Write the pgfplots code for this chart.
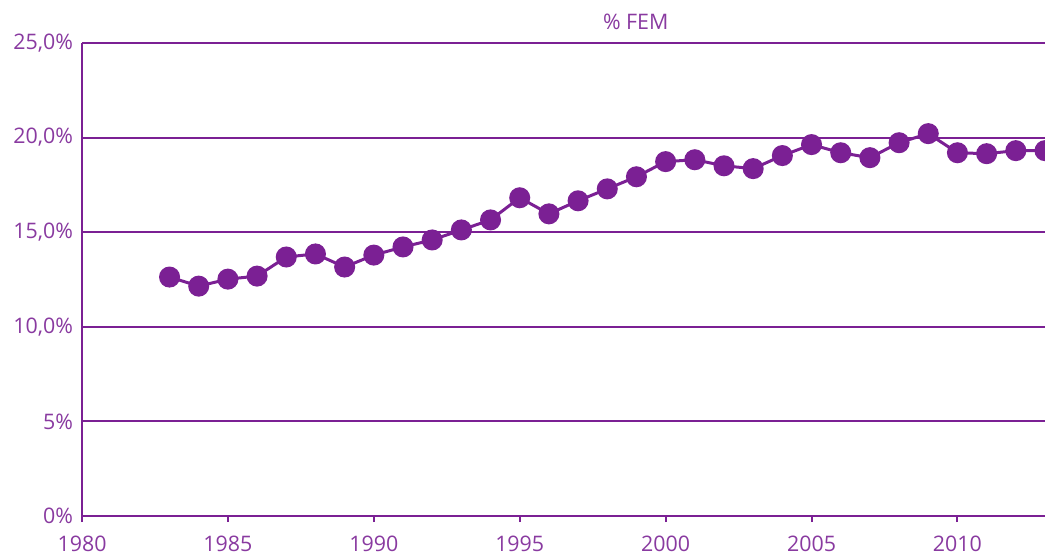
\documentclass[border=0pt]{standalone}
\usepackage{fontspec}
\setmainfont{Open Sans}
\usepackage{pgfplots}
\pgfplotsset{compat=1.18}
\definecolor{lpurple}{RGB}{123,32,148}
\definecolor{tpurple}{RGB}{137,58,160}
\begin{document}
\begin{tikzpicture}
\useasboundingbox (0,0) rectangle (522.5pt,277pt);
\begin{axis}[
  at={(41pt,19pt)}, anchor=south west,
  scale only axis, width=481.5pt, height=236.5pt,
  xmin=1980, xmax=2013, ymin=0, ymax=25,
  axis lines=left, axis line style={lpurple, line width=1pt, -},
  xtick={1980,1985,1990,1995,2000,2005,2010},
  ytick={0,5,10,15,20,25},
  yticklabels={0\%,5\%,{10,0\%},{15,0\%},{20,0\%},{25,0\%}},
  xticklabel style={/pgf/number format/1000 sep={}},
  /pgf/number format/assume math mode=true,
  tick label style={font=\fontsize{10.7}{12}\selectfont, text=tpurple},
  xtick style={lpurple, line width=1pt},
  major tick length=3pt,
  ytick style={draw=none},
  xtick align=outside,
  ymajorgrids, grid style={lpurple, line width=1pt},
  yticklabel style={xshift=0.5pt},
  xticklabel style={yshift=-3.5pt},
  clip=false,
]
\addplot[lpurple, line width=1.5pt, mark=*, mark size=4.5pt, mark options={fill=lpurple, draw=lpurple}] coordinates {
(1983,12.63) (1984,12.15) (1985,12.52) (1986,12.68) (1987,13.69) (1988,13.85)
(1989,13.16) (1990,13.79) (1991,14.22) (1992,14.59) (1993,15.12) (1994,15.65)
(1995,16.82) (1996,15.97) (1997,16.66) (1998,17.29) (1999,17.93) (2000,18.73)
(2001,18.83) (2002,18.51) (2003,18.36) (2004,19.05) (2005,19.63) (2006,19.20)
(2007,18.94) (2008,19.73) (2009,20.21) (2010,19.20) (2011,19.15) (2012,19.31)
(2013,19.31)
};
\node[text=tpurple, font=\fontsize{10.7}{12}\selectfont] at (rel axis cs:0.575,1.045) {\% FEM};
\end{axis}
\end{tikzpicture}
\end{document}
